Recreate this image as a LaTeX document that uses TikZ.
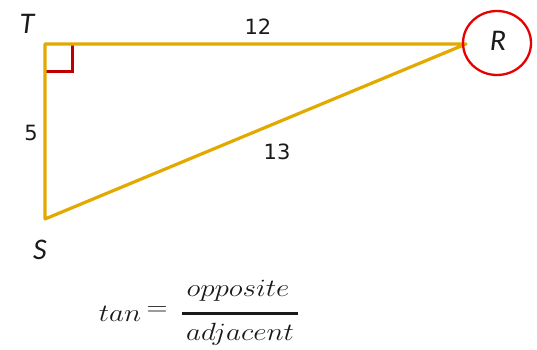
\documentclass[tikz,border=0pt]{standalone}
\usepackage{amsmath}
\usepackage{fontspec}
\usetikzlibrary{shapes.geometric}
\newfontfamily\numfont{DejaVu Sans}
\newfontfamily\lblfont{Carlito}
\definecolor{gold}{HTML}{E3A900}
\definecolor{boxred}{HTML}{C00000}
\definecolor{circred}{HTML}{E60000}
\definecolor{txt}{HTML}{1A1A1A}
\newcommand{\fm}[1]{\scalebox{1.17}[1]{\fontsize{30}{32}\selectfont$#1$}}
\begin{document}
\begin{tikzpicture}[x=1pt,y=-1pt,
  side/.style={gold,line width=3.2pt,line cap=round,line join=round},
  vlabel/.style={font=\lblfont\itshape\fontsize{30}{32}\selectfont,text=txt,inner sep=0pt},
  nlabel/.style={font=\numfont\fontsize{21}{24}\selectfont,text=txt,inner sep=0pt},
  formula/.style={inner sep=0pt,text=txt}]
\useasboundingbox (0,0) rectangle (537,349);
\coordinate (T) at (45,44);
\coordinate (R) at (466,44);
\coordinate (S) at (45,219);
\draw[boxred,line width=2.8pt] (45,71.5) -- (72.5,71.5) -- (72.5,44);
\draw[side] (R) -- (T) -- (S) -- cycle;
\node[draw=circred,line width=2.3pt,ellipse,minimum width=68pt,minimum height=64pt,inner sep=0pt] (circ) at (497,43) {};
\node[vlabel] (lT) at (27,24) {T};
\node[vlabel] (lR) at (498,41) {R};
\node[vlabel] (lS) at (40,250) {S};
\node[nlabel] (n12) at (258,27) {12};
\node[nlabel] (n5) at (31,133) {5};
\node[nlabel] (n13) at (277,152) {13};
\node[formula,anchor=base] (tan) at (120,321) {\fm{tan}};
\node[formula] (eq) at (157,311) {\fm{=}};
\node[formula,anchor=base] (num) at (238,296) {\fm{opposite}};
\node[formula,anchor=base] (den) at (240,340) {\fm{adjacent}};
\coordinate (barL) at (182,313.5);
\coordinate (barR) at (298,313.5);
\draw[txt,line width=2.2pt] (barL) -- (barR);
\end{tikzpicture}
\end{document}
